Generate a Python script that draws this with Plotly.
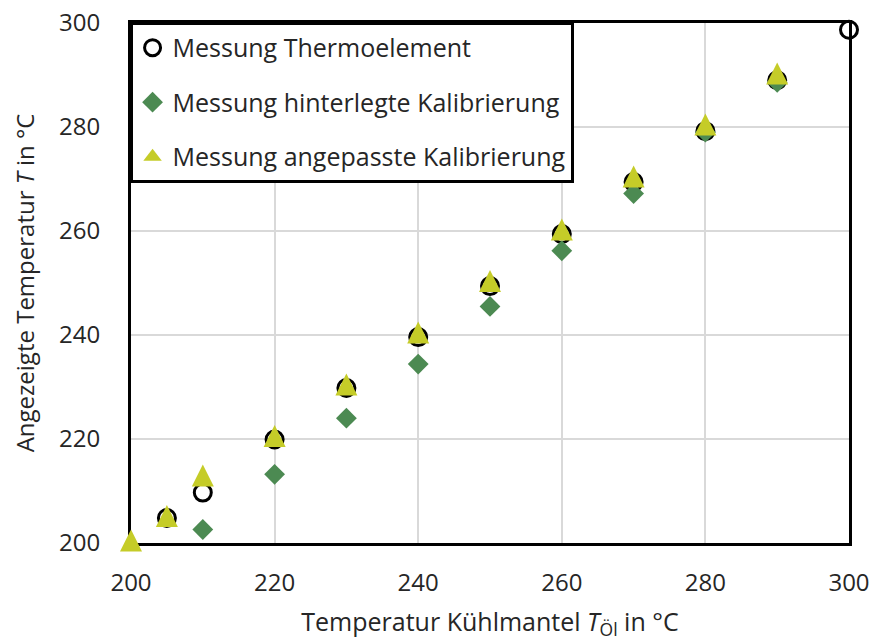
import plotly.graph_objects as go

# Data
x_thermo = [205, 210, 220, 230, 240, 250, 260, 270, 280, 290, 300]
y_thermo = [204.8, 209.7, 219.9, 229.8, 239.6, 249.4, 259.4, 269.4, 279.2, 289.0, 298.7]

x_hinter = [210, 220, 230, 240, 250, 260, 270, 280, 290]
y_hinter = [202.6, 213.2, 224.0, 234.4, 245.5, 256.2, 267.2, 279.0, 288.6]

x_angep = [200, 205, 210, 220, 230, 240, 250, 260, 270, 280, 290]
y_angep = [200.5, 205.2, 213.0, 220.6, 230.5, 240.5, 250.4, 260.3, 270.5, 280.5, 290.3]

tick_vals = [200, 220, 240, 260, 280, 300]
tick_text = ["200", "220", "240", "260", "280", "300"]

names = ["Messung Thermoelement",
         "Messung hinterlegte Kalibrierung",
         "Messung angepasste Kalibrierung"]

FONT = "Open Sans"
TXT = "#262626"
GREEN = "#4c8a52"
YELLOW = "#c5cc28"
FS = 24

fig = go.Figure()
fig.add_trace(go.Scatter(
    x=x_thermo, y=y_thermo, mode="markers", name=names[0], legendgroup="a",
    marker=dict(symbol="circle-open", size=17, color="black", line=dict(width=3, color="black")),
    cliponaxis=False))
fig.add_trace(go.Scatter(
    x=x_hinter, y=y_hinter, mode="markers", name=names[1], legendgroup="b",
    marker=dict(symbol="diamond", size=16, color=GREEN, line=dict(width=0)),
    cliponaxis=False))
# data markers: tall triangle (arrow shape centred on the point)
fig.add_trace(go.Scatter(
    x=x_angep, y=y_angep, mode="markers", name=names[2], legendgroup="c",
    showlegend=False,
    marker=dict(symbol="arrow-down", angle=180, size=22, color=YELLOW, standoff=11,
                line=dict(width=0)),
    cliponaxis=False))
# legend entry for the third series
fig.add_trace(go.Scatter(
    x=[None], y=[None], mode="markers", name=names[2], legendgroup="c",
    marker=dict(symbol="triangle-up", size=16, color=YELLOW, line=dict(width=0))))

axis_common = dict(
    range=[200, 300], tickvals=tick_vals, ticktext=tick_text,
    showgrid=True, gridcolor="#d9d9d9", gridwidth=2,
    showline=True, linecolor="black", linewidth=3, mirror=True,
    zeroline=False, ticks="", layer="below traces", automargin=False,
    tickfont=dict(family=FONT, size=FS, color=TXT),
)

fig.update_layout(
    width=872, height=641,
    margin=dict(l=131, r=23, t=23, b=98),
    paper_bgcolor="white", plot_bgcolor="white",
    font=dict(family=FONT, size=FS, color=TXT),
    showlegend=True,
    legend=dict(
        x=-0.002, y=1.002, xanchor="left", yanchor="top",
        bgcolor="white", bordercolor="black", borderwidth=3,
        font=dict(family=FONT, size=25, color=TXT),
        traceorder="grouped", tracegroupgap=19,
        itemwidth=30, entrywidth=412, entrywidthmode="pixels",
    ),
    xaxis=dict(**axis_common,
               title=dict(text="Temperatur Kühlmantel <i>T</i><sub>Öl</sub> in °C",
                          font=dict(family=FONT, size=25, color=TXT), standoff=20),
               ticklabelstandoff=16),
    yaxis=dict(**axis_common,
               title=dict(text="Angezeigte Temperatur <i>T</i> in °C",
                          font=dict(family=FONT, size=FS, color=TXT), standoff=18),
               ticklabelstandoff=23),
)

fig.write_html("out.html",
               config={"displayModeBar": False},
               post_script="document.body.style.margin='0';document.body.style.padding='0';")
